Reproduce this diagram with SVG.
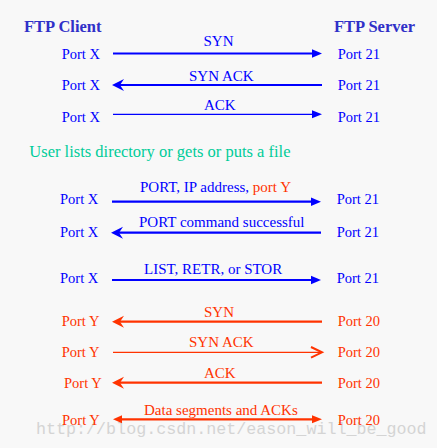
<svg xmlns="http://www.w3.org/2000/svg" width="437" height="448" viewBox="0 0 437 448">
<defs>
<style>
text{font-family:"Liberation Serif","Times New Roman",serif;}
.hd{font-size:16.5px;font-weight:bold;fill:#3030c8;}
.pb{font-size:14.5px;fill:#0000ff;}
.pr{font-size:14.5px;fill:#ff3300;}
.lb{font-size:15px;fill:#0000ff;}
.lr{font-size:15px;fill:#ff3300;}
.note{font-size:16.5px;fill:#00cc99;}
.wm{font-family:"Liberation Mono","Courier New",monospace;font-size:16.7px;fill:#d4d4d4;}
.b{stroke:#0000ff;fill:none;}
.r{stroke:#ff3300;fill:none;}
.t2{stroke-width:2.2;}
.t1{stroke-width:1.3;}
.hb{fill:#0000ff;}
.hr{fill:#ff3300;}
</style>
</defs>
<rect width="437" height="448" fill="#f8f8f8"/>
<text class="wm" x="36" y="434">http://blog.csdn.net/eason_will_be_good</text>
<g id="client-header"><text class="hd" x="24" y="31.7">FTP Client</text></g>
<g id="server-header"><text class="hd" x="334" y="31.7">FTP Server</text></g>
<g id="note"><text class="note" x="29.3" y="156.7">User lists directory or gets or puts a file</text></g>
<g id="connectors">
<!-- row 1 -->
<line class="b t2" x1="113" y1="53.5" x2="313" y2="53.5"/>
<path class="hb" d="M322,53.5 L312,49.3 L312,57.7 Z"/>
<!-- row 2 -->
<line class="b t2" x1="116" y1="85" x2="322" y2="85"/>
<path class="hb" d="M112,85 L124,79 L120,85 L124,91 Z"/>
<!-- row 3 -->
<line class="b t1" x1="113" y1="114.3" x2="313" y2="114.3"/>
<path class="hb" d="M322,114.3 L312,110.3 L312,118.3 Z"/>
<!-- row 4 -->
<line class="b t2" x1="112" y1="201.7" x2="312" y2="201.7"/>
<path class="hb" d="M321,201.7 L311,197.5 L311,205.9 Z"/>
<!-- row 5 -->
<line class="b t2" x1="115" y1="232.7" x2="321" y2="232.7"/>
<path class="hb" d="M111,232.7 L123,226.7 L119,232.7 L123,238.7 Z"/>
<!-- row 6 -->
<line class="b t2" x1="112" y1="280" x2="312" y2="280"/>
<path class="hb" d="M321,280 L311,275.8 L311,284.2 Z"/>
<!-- row 7 -->
<line class="r t2" x1="116" y1="321.7" x2="322" y2="321.7"/>
<path class="hr" d="M112,321.7 L124,315.7 L120,321.7 L124,327.7 Z"/>
<!-- row 8 -->
<line class="r t1" x1="113" y1="352.3" x2="322" y2="352.3"/>
<polyline class="r" stroke-width="2" points="311,347 322,352.3 311,357.6"/>
<!-- row 9 -->
<line class="r t2" x1="116" y1="382.7" x2="322" y2="382.7"/>
<path class="hr" d="M112,382.7 L124,376.7 L120,382.7 L124,388.7 Z"/>
<!-- row 10 -->
<line class="r t2" x1="118" y1="419.3" x2="313" y2="419.3"/>
<path class="hr" d="M113,419.3 L122,415.3 L122,423.3 Z"/>
<path class="hr" d="M322,419.3 L312,415.3 L312,423.3 Z"/>
</g>
<g id="row1">
<text class="pb" x="61.7" y="58.7">Port X</text>
<text class="lb" x="203.5" y="45.7">SYN</text>
<text class="pb" x="337.7" y="58.7">Port 21</text>
</g>
<g id="row2">
<text class="pb" x="61.7" y="90">Port X</text>
<text class="lb" x="189" y="81">SYN ACK</text>
<text class="pb" x="337.7" y="90">Port 21</text>
</g>
<g id="row3">
<text class="pb" x="61.7" y="122.3">Port X</text>
<text class="lb" x="204" y="110">ACK</text>
<text class="pb" x="337.7" y="122.3">Port 21</text>
</g>
<g id="row4">
<text class="pb" x="60" y="204">Port X</text>
<text class="lb" x="140" y="191.7">PORT, IP address, <tspan fill="#ff3300">port Y</tspan></text>
<text class="pb" x="336.7" y="204">Port 21</text>
</g>
<g id="row5">
<text class="pb" x="60" y="236.7">Port X</text>
<text class="lb" x="139" y="227.3">PORT command successful</text>
<text class="pb" x="336.7" y="236.7">Port 21</text>
</g>
<g id="row6">
<text class="pb" x="60" y="283.3">Port X</text>
<text class="lb" x="144" y="274.3">LIST, RETR, or STOR</text>
<text class="pb" x="336.7" y="283.3">Port 21</text>
</g>
<g id="row7">
<text class="pr" x="61.7" y="325.7">Port Y</text>
<text class="lr" x="204" y="316.7">SYN</text>
<text class="pr" x="337.7" y="325.7">Port 20</text>
</g>
<g id="row8">
<text class="pr" x="61.7" y="356.7">Port Y</text>
<text class="lr" x="189" y="347.3">SYN ACK</text>
<text class="pr" x="337.7" y="356.7">Port 20</text>
</g>
<g id="row9">
<text class="pr" x="64" y="387.7">Port Y</text>
<text class="lr" x="204" y="378.3">ACK</text>
<text class="pr" x="337.7" y="387.7">Port 20</text>
</g>
<g id="row10">
<text class="pr" x="62" y="425">Port Y</text>
<text class="lr" x="144" y="415">Data segments and ACKs</text>
<text class="pr" x="337.7" y="425">Port 20</text>
</g>
</svg>
